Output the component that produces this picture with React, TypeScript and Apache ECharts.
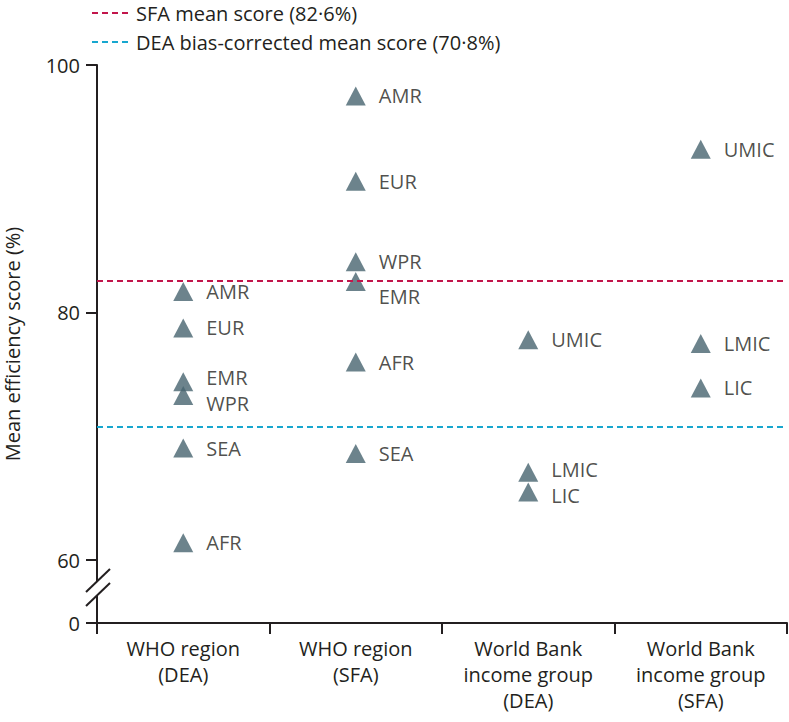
import React, { useEffect, useRef } from "react";
import * as echarts from "echarts";

const categories = [
  "WHO region\n(DEA)",
  "WHO region\n(SFA)",
  "World Bank\nincome group\n(DEA)",
  "World Bank\nincome group\n(SFA)",
];
const whoRegions = ["AMR", "EUR", "EMR", "WPR", "SEA", "AFR"];
const whoDEA = [81.7, 78.75, 74.4, 73.3, 69.05, 61.4];
const whoSFA = [97.5, 90.6, 82.5, 84.1, 68.6, 76.0];
const incomeGroups = ["UMIC", "LMIC", "LIC"];
const wbDEA = [77.8, 67.1, 65.5];
const wbSFA = [93.2, 77.5, 73.9];
const sfaMean = 82.6;
const deaMean = 70.8;
const yTickValues = [60, 80, 100];
const legendLabels = ["SFA mean score (82·6%)", "DEA bias-corrected mean score (70·8%)"];

// label vertical nudges for overlapping labels (styling only)
const labelNudge: Record<string, number> = {
  "0-EMR": -4,
  "0-WPR": 8,
  "1-EMR": 15,
  "2-LMIC": -3,
  "2-LIC": 4,
};

const FONT = "'Open Sans', sans-serif";
const TEXT = "#231f20";
const RED = "#c2154b";
const CYAN = "#17a7cf";
const TRI = "#47646f";
const Y_MIN = 54.91; // broken axis: this position is labelled "0"

export default function App() {
  const ref = useRef<HTMLDivElement>(null);
  useEffect(() => {
    if (!ref.current) return;
    const chart = echarts.init(ref.current, null, { renderer: "svg" });

    const groups: [string[], number[]][] = [
      [whoRegions, whoDEA],
      [whoRegions, whoSFA],
      [incomeGroups, wbDEA],
      [incomeGroups, wbSFA],
    ];
    const points: any[] = [];
    groups.forEach(([names, vals], gi) => {
      names.forEach((n, k) => {
        const nudge = labelNudge[`${gi}-${n}`] || 0;
        points.push({
          name: n,
          value: [gi, vals[k]],
          label: nudge ? { offset: [0, nudge] } : undefined,
        });
      });
    });

    chart.setOption({
      animation: false,
      textStyle: { fontFamily: FONT, color: TEXT },
      grid: { left: 97, right: 2, top: 65, bottom: 99, containLabel: false, outerBoundsMode: "none" },
      xAxis: {
        type: "category",
        data: categories,
        boundaryGap: true,
        axisLine: { onZero: false, lineStyle: { color: TEXT, width: 2 } },
        axisTick: { show: true, length: 11, lineStyle: { color: TEXT, width: 2 } },
        axisLabel: {
          fontFamily: FONT,
          fontSize: 20,
          color: TEXT,
          lineHeight: 26,
          margin: 12,
          interval: 0,
        },
        splitLine: { show: false },
      },
      yAxis: {
        type: "value",
        min: Y_MIN,
        max: 100,
        name: "Mean efficiency score (%)",
        nameLocation: "middle",
        nameGap: 75,
        nameTextStyle: { fontFamily: FONT, fontSize: 20, color: TEXT },
        axisLine: { show: true, lineStyle: { color: TEXT, width: 2 } },
        axisTick: {
          show: true,
          length: 11,
          lineStyle: { color: TEXT, width: 2 },
          customValues: [Y_MIN, ...yTickValues],
        },
        axisLabel: {
          fontFamily: FONT,
          fontSize: 20,
          color: TEXT,
          margin: 17,
          customValues: [Y_MIN, ...yTickValues],
          formatter: (v: number) => (v < 60 ? "0" : String(Math.round(v))),
        },
        splitLine: { show: false },
      },
      series: [
        {
          type: "scatter",
          symbol: "triangle",
          symbolSize: [20, 19],
          itemStyle: { color: TRI },
          data: points,
          label: {
            show: true,
            position: "right",
            distance: 13,
            fontFamily: FONT,
            fontSize: 20,
            color: TEXT,
            formatter: (p: any) => p.name,
          },
          markLine: {
            silent: true,
            symbol: ["none", "none"],
            label: { show: false },
            data: [
              { yAxis: sfaMean, lineStyle: { color: RED, type: [6, 4], width: 2 } },
              { yAxis: deaMean, lineStyle: { color: CYAN, type: [6, 4], width: 2 } },
            ],
          },
          z: 3,
        },
      ],
      graphic: [
        // legend
        {
          type: "line",
          shape: { x1: 92, y1: 13, x2: 128, y2: 13 },
          style: { stroke: RED, lineWidth: 2, lineDash: [6, 4] },
        },
        {
          type: "text",
          x: 136,
          y: 13,
          style: {
            text: legendLabels[0],
            fontFamily: FONT,
            fontSize: 20,
            fill: TEXT,
            verticalAlign: "middle",
          },
        },
        {
          type: "line",
          shape: { x1: 92, y1: 42, x2: 128, y2: 42 },
          style: { stroke: CYAN, lineWidth: 2, lineDash: [6, 4] },
        },
        {
          type: "text",
          x: 136,
          y: 42,
          style: {
            text: legendLabels[1],
            fontFamily: FONT,
            fontSize: 20,
            fill: TEXT,
            verticalAlign: "middle",
          },
        },
        // axis break marks
        {
          type: "polygon",
          z: 100,
          shape: { points: [[86, 592], [110, 569], [110, 583], [86, 606]] },
          style: { fill: "#ffffff" },
        },
        {
          type: "line",
          z: 101,
          shape: { x1: 86, y1: 592, x2: 110, y2: 569 },
          style: { stroke: TEXT, lineWidth: 2 },
        },
        {
          type: "line",
          z: 101,
          shape: { x1: 86, y1: 606, x2: 110, y2: 583 },
          style: { stroke: TEXT, lineWidth: 2 },
        },
      ],
    });
    return () => chart.dispose();
  }, []);
  return (
    <div
      ref={ref}
      style={{ position: "fixed", left: 0, top: 0, width: 789, height: 722, background: "#fff" }}
    />
  );
}
